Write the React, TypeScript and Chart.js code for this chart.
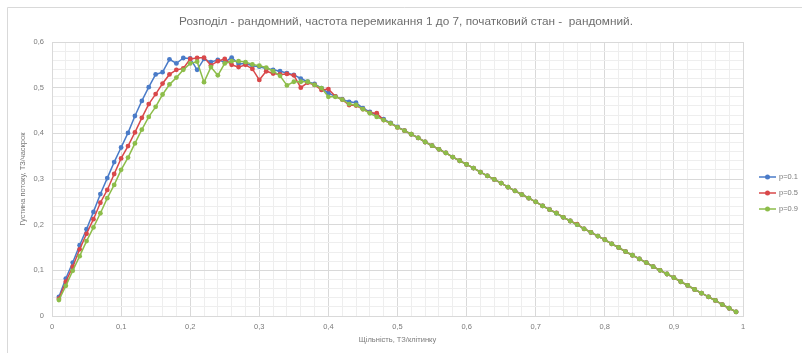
import React, { useEffect, useRef } from "react";
import { Chart, registerables } from "chart.js";

Chart.register(...registerables);

const TITLE = "Розподіл - рандомний, частота перемикання 1 до 7, початковий стан -  рандомний.";
const X_TITLE = "Щільність, ТЗ/клітинку";
const Y_TITLE = "Густина потоку, ТЗ/часкрок";

const density = [
  0.01, 0.02, 0.03, 0.04, 0.05, 0.06, 0.07, 0.08, 0.09, 0.1,
  0.11, 0.12, 0.13, 0.14, 0.15, 0.16, 0.17, 0.18, 0.19, 0.2,
  0.21, 0.22, 0.23, 0.24, 0.25, 0.26, 0.27, 0.28, 0.29, 0.3,
  0.31, 0.32, 0.33, 0.34, 0.35, 0.36, 0.37, 0.38, 0.39, 0.4,
  0.41, 0.42, 0.43, 0.44, 0.45, 0.46, 0.47, 0.48, 0.49, 0.5,
  0.51, 0.52, 0.53, 0.54, 0.55, 0.56, 0.57, 0.58, 0.59, 0.6,
  0.61, 0.62, 0.63, 0.64, 0.65, 0.66, 0.67, 0.68, 0.69, 0.7,
  0.71, 0.72, 0.73, 0.74, 0.75, 0.76, 0.77, 0.78, 0.79, 0.8,
  0.81, 0.82, 0.83, 0.84, 0.85, 0.86, 0.87, 0.88, 0.89, 0.9,
  0.91, 0.92, 0.93, 0.94, 0.95, 0.96, 0.97, 0.98, 0.99,
];

const flowP01 = [
  0.042, 0.082, 0.117, 0.155, 0.19, 0.228, 0.267, 0.302, 0.337, 0.369,
  0.401, 0.438, 0.471, 0.501, 0.529, 0.534, 0.562, 0.553, 0.565, 0.564,
  0.539, 0.563, 0.556, 0.561, 0.556, 0.566, 0.552, 0.553, 0.548, 0.546,
  0.542, 0.539, 0.536, 0.532, 0.528, 0.52, 0.513, 0.508, 0.499, 0.488,
  0.481, 0.475, 0.469, 0.467, 0.455, 0.447, 0.44, 0.431, 0.423, 0.414,
  0.406, 0.398, 0.39, 0.381, 0.373, 0.365, 0.357, 0.348, 0.34, 0.332,
  0.324, 0.315, 0.307, 0.299, 0.291, 0.282, 0.274, 0.266, 0.258, 0.25,
  0.241, 0.233, 0.225, 0.216, 0.208, 0.2, 0.191, 0.183, 0.175, 0.167,
  0.158, 0.15, 0.141, 0.133, 0.125, 0.117, 0.108, 0.1, 0.092, 0.084,
  0.075, 0.067, 0.058, 0.05, 0.042, 0.034, 0.025, 0.017, 0.009,
];

const flowP05 = [
  0.038, 0.075, 0.108, 0.146, 0.18, 0.212, 0.248, 0.276, 0.311, 0.345,
  0.372, 0.402, 0.434, 0.464, 0.486, 0.509, 0.529, 0.539, 0.542, 0.563,
  0.565, 0.566, 0.549, 0.558, 0.563, 0.55, 0.545, 0.55, 0.541, 0.517,
  0.536, 0.531, 0.529, 0.53, 0.527, 0.5, 0.511, 0.506, 0.495, 0.497,
  0.481, 0.474, 0.462, 0.461, 0.453, 0.445, 0.444, 0.429, 0.422, 0.413,
  0.406, 0.398, 0.39, 0.381, 0.373, 0.365, 0.357, 0.348, 0.34, 0.332,
  0.324, 0.315, 0.307, 0.299, 0.291, 0.282, 0.274, 0.266, 0.258, 0.25,
  0.241, 0.233, 0.226, 0.216, 0.208, 0.201, 0.191, 0.183, 0.175, 0.167,
  0.158, 0.15, 0.141, 0.133, 0.125, 0.117, 0.108, 0.1, 0.092, 0.084,
  0.075, 0.067, 0.058, 0.05, 0.042, 0.034, 0.025, 0.017, 0.009,
];

const flowP09 = [
  0.035, 0.066, 0.099, 0.131, 0.164, 0.194, 0.225, 0.258, 0.287, 0.32,
  0.347, 0.378, 0.408, 0.436, 0.458, 0.485, 0.507, 0.522, 0.539, 0.553,
  0.557, 0.512, 0.545, 0.527, 0.553, 0.558, 0.558, 0.556, 0.551, 0.548,
  0.544, 0.536, 0.526, 0.505, 0.513, 0.513, 0.513, 0.506, 0.499, 0.48,
  0.48, 0.474, 0.464, 0.462, 0.453, 0.444, 0.436, 0.429, 0.422, 0.413,
  0.406, 0.398, 0.39, 0.381, 0.373, 0.365, 0.357, 0.348, 0.34, 0.332,
  0.324, 0.315, 0.307, 0.299, 0.291, 0.282, 0.274, 0.266, 0.258, 0.25,
  0.241, 0.233, 0.225, 0.216, 0.208, 0.2, 0.191, 0.183, 0.175, 0.167,
  0.158, 0.15, 0.141, 0.133, 0.125, 0.117, 0.108, 0.1, 0.092, 0.084,
  0.075, 0.067, 0.058, 0.05, 0.042, 0.034, 0.025, 0.017, 0.009,
];

const seriesLabels = ["p=0.1", "p=0.5", "p=0.9"];
const seriesColors = ["#4a7bc8", "#d9484a", "#8dbd4a"];
const seriesValues = [flowP01, flowP05, flowP09];

const FONT = "'Liberation Sans', Arial, sans-serif";
const TEXT = "#7a7a7a";

const isMajor = (v: number) => Math.abs(v * 10 - Math.round(v * 10)) < 1e-6;
const fmt = (v: number) => {
  if (!isMajor(v)) return "";
  const r = Math.round(v * 10) / 10;
  return String(r).replace(".", ",");
};

const framePlugin = {
  id: "frame",
  beforeDraw(chart: any) {
    const ctx = chart.ctx;
    ctx.save();
    ctx.fillStyle = "#ffffff";
    ctx.fillRect(0, 0, chart.width, chart.height);
    ctx.strokeStyle = "#d9d9d9";
    ctx.lineWidth = 1;
    ctx.beginPath();
    ctx.moveTo(7.5, chart.height);
    ctx.lineTo(7.5, 7.5);
    ctx.lineTo(chart.width, 7.5);
    ctx.stroke();
    ctx.restore();
  },
  afterDraw(chart: any) {
    const ctx = chart.ctx;
    ctx.save();
    ctx.fillStyle = "#6e6e6e";
    ctx.font = `11.8px ${FONT}`;
    ctx.textAlign = "center";
    ctx.textBaseline = "middle";
    ctx.fillText(TITLE, 406, 22);
    ctx.restore();
  },
};

const legendPlugin = {
  id: "sideLegend",
  afterDraw(chart: any) {
    const ctx = chart.ctx;
    const area = chart.chartArea;
    const midY = (area.top + area.bottom) / 2;
    ctx.save();
    seriesLabels.forEach((lab, i) => {
      const y = midY - 2 + i * 16;
      const x0 = area.right + 16;
      ctx.strokeStyle = seriesColors[i];
      ctx.lineWidth = 1.5;
      ctx.beginPath();
      ctx.moveTo(x0, y);
      ctx.lineTo(x0 + 17, y);
      ctx.stroke();
      ctx.fillStyle = seriesColors[i];
      ctx.beginPath();
      ctx.arc(x0 + 8.5, y, 2.5, 0, Math.PI * 2);
      ctx.fill();
      ctx.fillStyle = TEXT;
      ctx.font = `7.5px ${FONT}`;
      ctx.textBaseline = "middle";
      ctx.textAlign = "left";
      ctx.fillText(lab, x0 + 20, y);
    });
    ctx.restore();
  },
};

export default function App() {
  const ref = useRef<HTMLCanvasElement | null>(null);

  useEffect(() => {
    document.body.style.margin = "0";
    const canvas = ref.current;
    if (!canvas) return;
    const datasets = seriesLabels.map((lab, i) => ({
      label: lab,
      data: density.map((x, j) => ({ x, y: seriesValues[i][j] })),
      borderColor: seriesColors[i],
      backgroundColor: seriesColors[i],
      borderWidth: 1.5,
      pointRadius: 2.4,
      pointBorderWidth: 0,
      pointBackgroundColor: seriesColors[i],
      tension: 0,
      order: 2 - i,
    }));
    const chart = new Chart(canvas, {
      type: "line",
      data: { datasets },
      plugins: [framePlugin, legendPlugin],
      options: {
        animation: false,
        responsive: false,
        maintainAspectRatio: false,
        layout: { padding: { left: 8, right: 59, top: 42, bottom: 0 } },
        plugins: {
          legend: { display: false },
          tooltip: { enabled: false },
          title: { display: false },
        },
        scales: {
          x: {
            type: "linear",
            min: 0,
            max: 1,
            afterFit: (s: any) => {
              s.height = 37;
            },
            ticks: {
              stepSize: 0.02,
              autoSkip: false,
              maxRotation: 0,
              padding: 6,
              color: TEXT,
              font: { family: FONT, size: 7.5 },
              callback: (v: any) => fmt(Number(v)),
            },
            grid: {
              drawTicks: false,
              color: (c: any) => (isMajor(c.tick.value) ? "#d9d9d9" : "#eeeeee"),
              lineWidth: 1,
            },
            border: { color: "#d9d9d9" },
            title: {
              display: true,
              text: X_TITLE,
              color: TEXT,
              font: { family: FONT, size: 7.5 },
              padding: { top: 0, bottom: 8.5 },
            },
          },
          y: {
            type: "linear",
            min: 0,
            max: 0.6,
            afterFit: (s: any) => {
              s.width = 44;
            },
            ticks: {
              stepSize: 0.02,
              autoSkip: false,
              padding: 8,
              color: TEXT,
              font: { family: FONT, size: 7.5 },
              callback: (v: any) => fmt(Number(v)),
            },
            grid: {
              drawTicks: false,
              color: (c: any) => (isMajor(c.tick.value) ? "#d9d9d9" : "#eeeeee"),
              lineWidth: 1,
            },
            border: { color: "#d9d9d9" },
            title: {
              display: true,
              text: Y_TITLE,
              color: TEXT,
              font: { family: FONT, size: 7.5 },
              padding: { top: 10.5, bottom: 0 },
            },
          },
        },
      },
    } as any);
    return () => chart.destroy();
  }, []);

  return (
    <div style={{ position: "fixed", left: 0, top: 0, width: 802, height: 353 }}>
      <canvas ref={ref} width={802} height={353} style={{ width: 802, height: 353 }} />
    </div>
  );
}
